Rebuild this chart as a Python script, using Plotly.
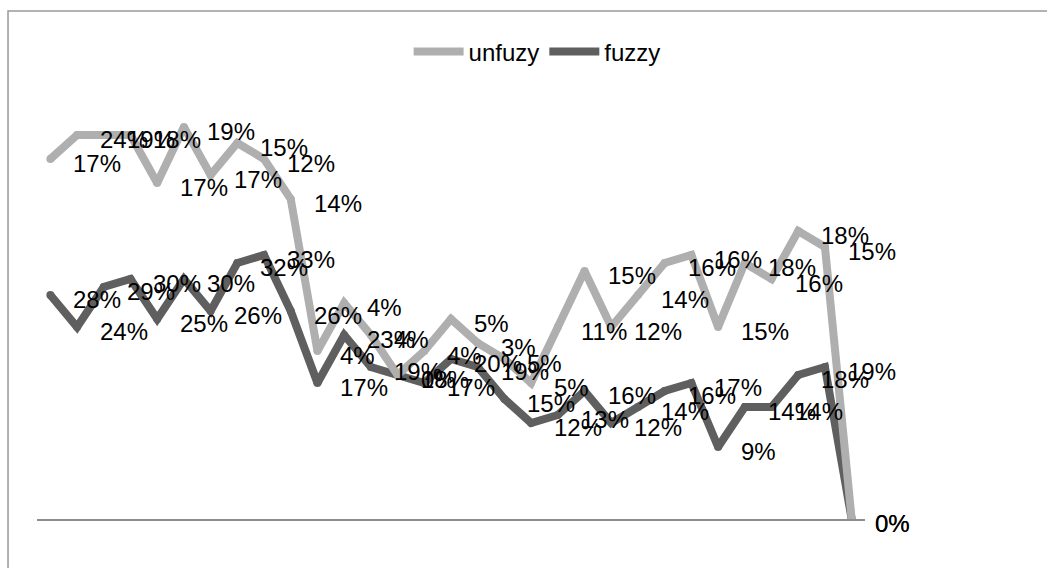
import plotly.graph_objects as go

categories = [str(i) for i in range(1, 32)]
fuzzy = [28, 24, 29, 30, 25, 30, 26, 32, 33, 26, 17, 23, 19, 18, 17, 20, 19, 15, 12, 13, 16, 12, 14, 16, 17, 9, 14, 14, 18, 19, 0]
unfuzy = [17, 24, 19, 18, 17, 19, 17, 15, 12, 14, 4, 4, 4, 0, 4, 5, 3, 5, 5, 11, 15, 12, 14, 16, 16, 15, 18, 16, 18, 15, 0]

LIGHT = "#afafaf"
DARK = "#5f5f5f"
FONT = "Liberation Sans"
LW = 8

fig = go.Figure()

# stacked line chart: fuzzy is the base, unfuzy is stacked on it
series = [("fuzzy", fuzzy, DARK, 2), ("unfuzy", unfuzy, LIGHT, 1)]
for name, values, color, rank in series:
    fig.add_trace(go.Scatter(
        x=categories, y=values, name=name, stackgroup="s", fill="none",
        mode="lines+markers",
        line=dict(color=color, width=LW),
        marker=dict(size=LW, color=color, symbol="circle", line=dict(width=0)),
        showlegend=False, hoverinfo="skip",
    ))
for name, values, color, rank in series:
    fig.add_trace(go.Scatter(
        x=[None], y=[None], name=name, mode="lines",
        line=dict(color=color, width=LW), legendrank=rank,
    ))

# data labels: right of each (stacked) point; category axis annotations use the
# serial index of the category
annotations = []
base = [0] * len(categories)
for name, values, color, rank in series:
    for i, v in enumerate(values):
        top = base[i] + v
        annotations.append(dict(
            x=i, y=top, xref="x", yref="y", text=f"{v}%", showarrow=False,
            xanchor="left", yanchor="middle", xshift=21, yshift=-4,
            font=dict(family=FONT, size=24, color="#000000"),
        ))
        base[i] = top

fig.update_layout(
    width=1047, height=568,
    margin=dict(l=37, r=182, t=119, b=49),
    paper_bgcolor="white", plot_bgcolor="white",
    font=dict(family=FONT, size=24, color="#000000"),
    xaxis=dict(type="category", categoryorder="array", categoryarray=categories,
               showgrid=False, zeroline=False, showticklabels=False,
               ticks="", showline=True, linecolor="#8c8c8c", linewidth=2,
               range=[-0.5, len(categories) - 0.5]),
    yaxis=dict(range=[0, 50], visible=False, showgrid=False, zeroline=False),
    legend=dict(orientation="h", x=0.604, xanchor="center", y=1.1675, yanchor="middle",
                font=dict(family=FONT, size=24), bgcolor="rgba(0,0,0,0)",
                itemwidth=50, tracegroupgap=0),
    showlegend=True,
    annotations=annotations,
    shapes=[dict(type="rect", xref="paper", yref="paper",
                 x0=-0.035, x1=1.4, y0=-0.2, y1=1.27,
                 line=dict(color="#999999", width=1.5), fillcolor="rgba(0,0,0,0)",
                 layer="below")],
)

fig.write_html("out.html", config={"displayModeBar": False},
               post_script="document.body.style.margin='0';document.body.style.overflow='hidden';")
